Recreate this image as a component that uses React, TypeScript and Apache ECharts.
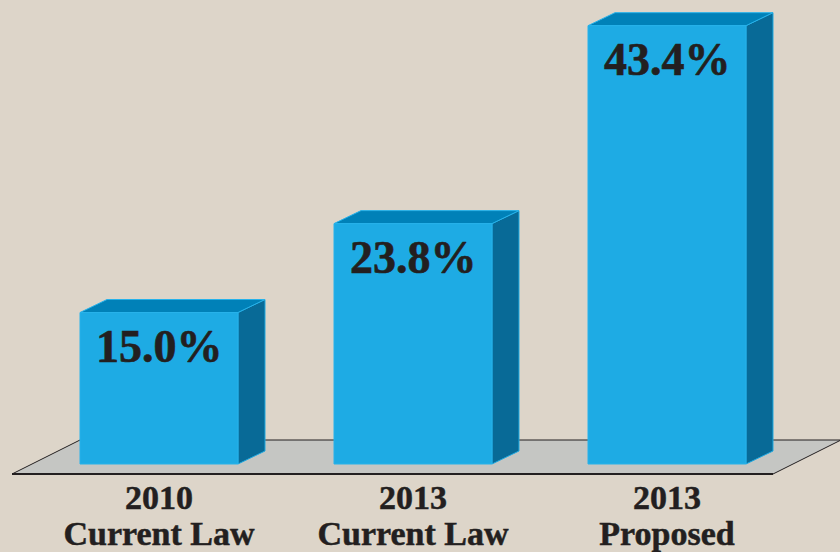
import React, { useEffect, useRef } from "react";
import * as echarts from "echarts";

const categories = ["2010\nCurrent Law", "2013\nCurrent Law", "2013\nProposed"];
const values = [15.0, 23.8, 43.4];
const valueLabels = ["15.0%", "23.8%", "43.4%"];

const FONT = "'Liberation Serif', 'Times New Roman', serif";

export default function App() {
  const ref = useRef<HTMLDivElement>(null);
  useEffect(() => {
    const chart = echarts.init(ref.current!, undefined, { renderer: "svg" });
    const option: any = {
      animation: false,
      backgroundColor: "#ddd5c9",
      grid: { left: 32, right: 46, top: 9.5, bottom: 88, outerBoundsMode: "none", containLabel: false },
      xAxis: {
        type: "category",
        data: categories,
        axisLine: { show: false },
        axisTick: { show: false },
        axisLabel: {
          interval: 0,
          hideOverlap: false,
          margin: 15,
          fontFamily: FONT,
          fontWeight: "bold",
          fontSize: 34,
          lineHeight: 36,
          color: "#231f20",
          textBorderColor: "#231f20",
          textBorderWidth: 0.5,
        },
      },
      yAxis: { type: "value", min: 0, max: 45, show: false, splitLine: { show: false } },
      series: [
        {
          type: "custom",
          z: 1,
          silent: true,
          data: [[0, 0]],
          renderItem: (params: any, api: any) => {
            const p0 = api.coord([0, 0]);
            const p2 = api.coord([2, 0]);
            const band = api.size([1, 0])[0];
            const fl = p0[0] - band / 2 - 20;
            const fr = p2[0] + band / 2 - 21;
            const fy = p0[1] + 10;
            const by = p0[1] - 24;
            const d = 68;
            return {
              type: "group",
              children: [
                {
                  type: "polygon",
                  shape: { points: [[fl, fy], [fl + d, by], [fr + d, by], [fr, fy]] },
                  style: { fill: "#c5c6c3", stroke: "#231f20", lineWidth: 1 },
                },
                {
                  type: "line",
                  shape: { x1: fl, y1: fy, x2: fr, y2: fy },
                  style: { stroke: "#231f20", lineWidth: 2 },
                },
              ],
            };
          },
        },
        {
          type: "custom",
          z: 2,
          silent: true,
          data: values.map((v, i) => [i, v]),
          renderItem: (params: any, api: any) => {
            const i = api.value(0);
            const v = api.value(1);
            const base = api.coord([i, 0]);
            const top = api.coord([i, v]);
            const band = api.size([1, 0])[0];
            const w = band * 0.622;
            const l = base[0] - w / 2;
            const r = base[0] + w / 2;
            const t = top[1];
            const b = base[1];
            const dx = 27;
            const dy = 13;
            return {
              type: "group",
              children: [
                {
                  type: "polygon",
                  shape: { points: [[r, t], [r + dx, t - dy], [r + dx, b - dy], [r, b]] },
                  style: { fill: "#086a97", stroke: "#1ea8e0", lineWidth: 1 },
                },
                {
                  type: "polygon",
                  shape: { points: [[l, t], [l + dx, t - dy], [r + dx, t - dy], [r, t]] },
                  style: { fill: "#0081b8", stroke: "#27b2ea", lineWidth: 1 },
                },
                {
                  type: "rect",
                  shape: { x: l, y: t, width: w, height: b - t },
                  style: { fill: "#1eabe4", stroke: "#27b2ea", lineWidth: 1 },
                },
                {
                  type: "text",
                  x: l + 16,
                  y: t + 11,
                  style: {
                    text: valueLabels[params.dataIndex],
                    fontFamily: FONT,
                    fontWeight: "bold",
                    fontSize: 46,
                    fill: "#231f20",
                    stroke: "#231f20",
                    lineWidth: 0.6,
                    verticalAlign: "top",
                    align: "left",
                  },
                },
              ],
            };
          },
        },
      ],
    };
    chart.setOption(option);
    return () => chart.dispose();
  }, []);
  return (
    <div
      ref={ref}
      style={{ position: "fixed", left: 0, top: 0, width: 840, height: 552 }}
    />
  );
}
